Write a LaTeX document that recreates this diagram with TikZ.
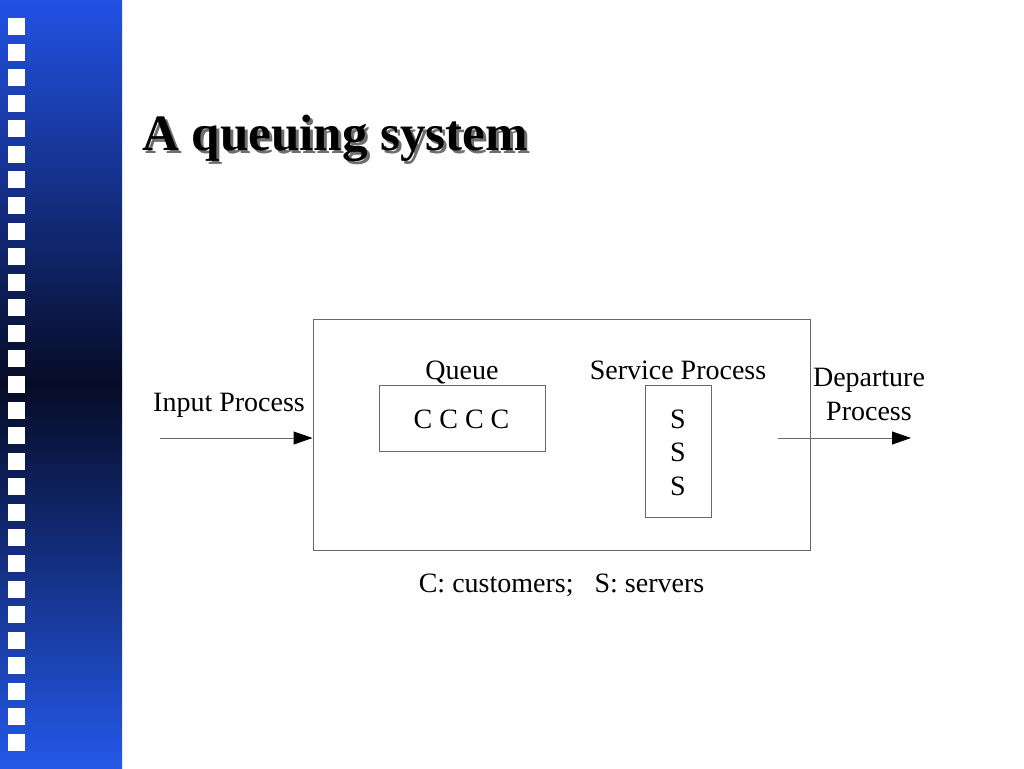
\documentclass[tikz,border=0pt]{standalone}
\usepackage{fontspec}
\setmainfont{Liberation Serif}
\usetikzlibrary{arrows.meta}
\definecolor{bartop}{RGB}{34,82,228}
\definecolor{barmid}{RGB}{6,12,38}
\definecolor{barbot}{RGB}{36,88,232}
\definecolor{linegray}{RGB}{105,105,105}
\definecolor{shadowgray}{RGB}{110,110,110}
\begin{document}
\begin{tikzpicture}[x=1pt,y=-1pt,
  txt/.style={inner sep=0pt,anchor=base,font=\fontsize{28}{33}\selectfont},
  titletxt/.style={inner sep=0pt,anchor=base west,font=\fontsize{51}{60}\selectfont\bfseries},
  boxst/.style={draw=linegray,line width=1pt,inner sep=0pt},
  conn/.style={draw=linegray,line width=1pt,-{Triangle[length=19pt,width=13pt,color=black]}},
  sq/.style={fill=white,draw=none,inner sep=0pt,minimum size=17pt}
]
\useasboundingbox (0,0) rectangle (1024,768);
\fill[white] (0,0) rectangle (1024,768);
% side bar
\shade[top color=bartop,bottom color=barbot,middle color=barmid] (0,0) rectangle (122,768);
\foreach \i in {0,...,28}{
  \node[sq] (sq\i) at (16.5,{26.5+25.57*\i}) {};
}
% title
\node[titletxt,text=shadowgray] (titleshadow) at (145,153) {A queuing system};
\node[titletxt,text=black] (title) at (142,150) {A queuing system};
% boxes
\node[boxst,minimum width=497pt,minimum height=231pt] (sys) at (561.5,434.5) {};
\node[boxst,minimum width=166pt,minimum height=66pt] (queue) at (462,418) {};
\node[boxst,minimum width=66pt,minimum height=132pt] (server) at (678,451) {};
% labels
\node[txt] (queuelbl) at (462,379) {Queue};
\node[txt] (servicelbl) at (678,379) {Service Process};
\node[txt] (cust) at (461.5,428) {C C C C};
\node[txt] (s1) at (678,428) {S};
\node[txt] (s2) at (678,461.5) {S};
\node[txt] (s3) at (678,495) {S};
\node[txt] (inlbl) at (229,411) {Input Process};
\node[txt] (deplbl1) at (869,386) {Departure};
\node[txt] (deplbl2) at (869,420) {Process};
\node[txt] (legend) at (561.5,592) {C: customers;\ \ \ S: servers};
% connectors
\coordinate (inS) at (160,438);
\coordinate (outS) at (778,438);
\coordinate (outE) at (911,438);
\draw[conn] (inS) -- (inS -| sys.west);
\draw[conn] (outS) -- (outE);
\end{tikzpicture}
\end{document}
